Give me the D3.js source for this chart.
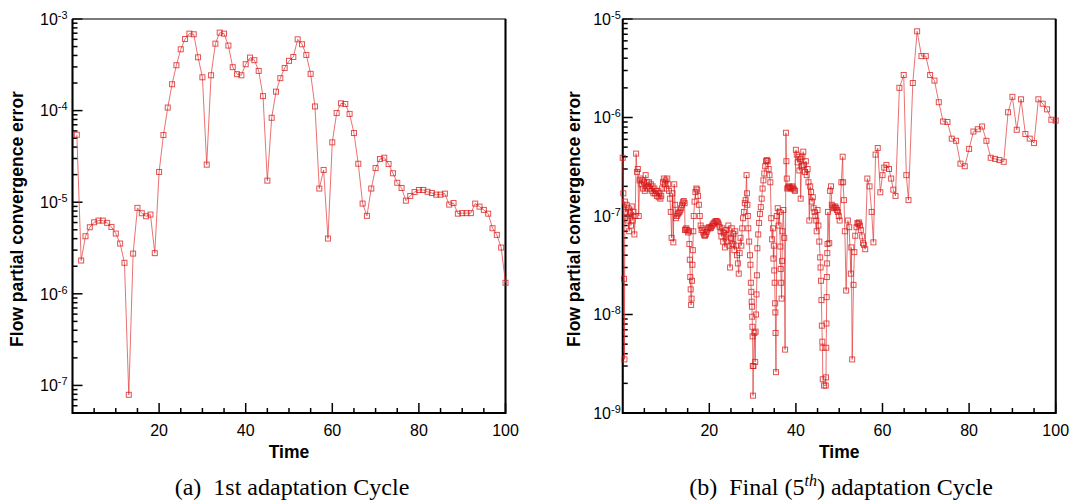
<!DOCTYPE html>
<html>
<head>
<meta charset="utf-8">
<script src="https://cdn.jsdelivr.net/npm/d3@7"></script>
<style>
  body { margin: 0; background: #fff; }
  svg { display: block; }
</style>
</head>
<body>
<svg id="chart" width="1075" height="500"></svg>
<script>
// ---- data: [time, flow partial convergence error] ----
const xMajorTicks = [20, 40, 60, 80, 100];
const xMinorTicks = [5, 10, 15, 25, 30, 35, 45, 50, 55, 65, 70, 75, 85, 90, 95];

const cycle1 = [
  [1,5.45e-5],[2,2.31e-6],[3,4.25e-6],[4,5.33e-6],[5,6.04e-6],[6,6.3e-6],[7,6.3e-6],[8,5.95e-6],
  [9,5.37e-6],[10,4.55e-6],[11,3.54e-6],[12,2.18e-6],[13,7.9e-8],[14,2.75e-6],[15,8.67e-6],
  [16,7.58e-6],[17,7.03e-6],[18,7.33e-6],[19,2.78e-6],[20,2.14e-5],[21,5.41e-5],[22,1.08e-4],
  [23,1.94e-4],[24,3.13e-4],[25,4.67e-4],[26,6.05e-4],[27,6.92e-4],[28,6.81e-4],[29,3.82e-4],
  [30,2.31e-4],[31,2.57e-5],[32,2.43e-4],[33,5.38e-4],[34,7.1e-4],[35,6.92e-4],[36,5.13e-4],
  [37,2.98e-4],[38,2.5e-4],[39,2.43e-4],[40,3.21e-4],[41,3.79e-4],[42,3.55e-4],[43,2.71e-4],
  [44,1.44e-4],[45,1.72e-5],[46,8.35e-5],[47,1.61e-4],[48,2.26e-4],[49,2.92e-4],[50,3.49e-4],
  [51,3.85e-4],[52,6.0e-4],[53,5.3e-4],[54,4.05e-4],[55,2.52e-4],[56,1.11e-4],[57,1.41e-5],
  [58,2.25e-5],[59,4.01e-6],[60,4.5e-5],[61,9.4e-5],[62,1.2e-4],[63,1.18e-4],[64,9.2e-5],
  [65,5.69e-5],[66,2.63e-5],[67,9.66e-6],[68,7.1e-6],[69,1.41e-5],[70,2.36e-5],[71,2.96e-5],
  [72,3.06e-5],[73,2.61e-5],[74,2.07e-5],[75,1.63e-5],[76,1.43e-5],[77,1.04e-5],[78,1.17e-5],
  [79,1.29e-5],[80,1.36e-5],[81,1.36e-5],[82,1.3e-5],[83,1.26e-5],[84,1.21e-5],[85,1.21e-5],
  [86,1.24e-5],[87,9.42e-6],[88,9.8e-6],[89,7.5e-6],[90,7.6e-6],[91,7.6e-6],[92,7.6e-6],
  [93,9.66e-6],[94,8.95e-6],[95,8.24e-6],[96,7.5e-6],[97,5.2e-6],[98,4.4e-6],[99,3.2e-6],[100,1.32e-6]
];

const cycleFinal = [
  [0.0,3.9e-7],[0.15,1.7e-7],[0.3,2.3e-8],[0.4,3.5e-9],[0.5,1.4e-7],[0.7,1.1e-7],[0.9,1.3e-7],
  [1.1,9e-8],[1.3,1.2e-7],[1.5,7e-8],[1.7,1.1e-7],[1.9,8e-8],[2.1,1.25e-7],[2.3,9e-8],[2.5,1.1e-7],
  [2.7,6.5e-8],[2.9,1.0e-7],[3.1,4.3e-7],[3.3,2.8e-7],[3.5,3.0e-7],[3.7,1.0e-7],[3.9,2.3e-7],
  [4.1,2.4e-7],[4.3,2.1e-7],[4.5,2.3e-7],[4.7,1.9e-7],[4.9,2.2e-7],[5.1,1.8e-7],[5.3,2.6e-7],
  [5.5,1.9e-7],[5.7,2.2e-7],[5.9,2.0e-7],[6.1,2.2e-7],[6.3,1.9e-7],[6.5,2.1e-7],[6.7,1.8e-7],
  [6.9,2.0e-7],[7.1,1.7e-7],[7.3,1.9e-7],[7.5,1.7e-7],[7.7,1.8e-7],[7.9,1.6e-7],[8.1,1.8e-7],
  [8.3,1.55e-7],[8.5,1.7e-7],[8.7,1.5e-7],[8.9,1.6e-7],[9.1,1.9e-7],[9.3,2.2e-7],[9.5,2.4e-7],
  [9.7,2.1e-7],[9.9,2.3e-7],[10.1,1.9e-7],[10.3,2.4e-7],[10.5,2.1e-7],[10.7,1.8e-7],[10.9,1.5e-7],
  [11.1,1.1e-7],[11.3,6e-8],[11.5,1.7e-7],[11.7,5.4e-8],[11.9,2.1e-7],[12.1,1.3e-7],
  [12.3,9.5e-8],[12.5,1.0e-7],[12.7,1.04e-7],[12.9,1.07e-7],[13.1,1.1e-7],[13.3,1.14e-7],
  [13.5,1.2e-7],[13.7,1.3e-7],[13.9,1.38e-7],[14.1,1.42e-7],[14.3,1.35e-7],[14.4,7.2e-8],
  [14.5,7.3e-8],[14.7,7.5e-8],[14.9,7.2e-8],[15.1,6.8e-8],[15.3,7.0e-8],[15.4,5.2e-8],
  [15.5,3.6e-8],[15.6,2.4e-8],[15.7,1.8e-8],[15.8,1.25e-8],[15.9,1.45e-8],[16.0,2.2e-8],
  [16.1,3.2e-8],[16.2,4.5e-8],[16.3,7e-8],[16.4,1.0e-7],[16.6,1.4e-7],[16.8,1.75e-7],
  [17.0,1.9e-7],[17.2,1.85e-7],[17.4,1.6e-7],[17.6,1.3e-7],[17.8,1.0e-7],[18.0,8e-8],
  [18.2,7.2e-8],[18.4,7.5e-8],[18.6,6.8e-8],[18.8,6.4e-8],[19.0,6.3e-8],[19.2,6.5e-8],
  [19.4,6.9e-8],[19.6,7.3e-8],[19.8,7.6e-8],[20.0,7.7e-8],[20.2,7.5e-8],[20.4,7.6e-8],
  [20.6,7.9e-8],[20.8,8.2e-8],[21.0,8.4e-8],[21.2,8.6e-8],[21.4,8.8e-8],[21.6,8.9e-8],
  [21.8,8.8e-8],[22.0,8.6e-8],[22.2,8.2e-8],[22.4,7.7e-8],[22.6,7.0e-8],[22.8,6.2e-8],
  [23.0,7.5e-8],[23.2,5.5e-8],[23.4,6.8e-8],[23.6,4.8e-8],[23.8,7.2e-8],[24.0,5.5e-8],
  [24.2,6.5e-8],[24.4,8.0e-8],[24.6,5.0e-8],[24.8,3.0e-8],[25.0,6.0e-8],[25.2,7.5e-8],
  [25.4,5.2e-8],[25.6,6.6e-8],[25.8,4.5e-8],[26.0,7.0e-8],[26.2,5.0e-8],[26.4,4.0e-8],
  [26.6,3.3e-8],[26.8,2.6e-8],[27.0,4.2e-8],[27.2,6.0e-8],[27.4,5.0e-8],[27.6,7.5e-8],
  [27.8,9.5e-8],[28.0,1.1e-7],[28.2,1.35e-7],[28.4,1.45e-7],[28.6,2.6e-7],[28.7,1.7e-7],
  [28.8,1.3e-7],[28.9,1.0e-7],[29.0,7.5e-8],[29.2,5.5e-8],[29.4,4.0e-8],[29.5,3.2e-8],
  [29.6,2.1e-8],[29.7,1.7e-8],[29.8,1.35e-8],[29.85,1.2e-8],[29.9,9.5e-9],[29.95,7.5e-9],
  [30.0,6.0e-9],[30.05,3.0e-9],[30.1,1.5e-9],[30.2,3.0e-9],[30.4,6.5e-9],[30.6,3.3e-9],
  [30.7,6.7e-9],[30.8,1.0e-8],[30.9,1.6e-8],[31.0,2.5e-8],[31.1,4.7e-8],[31.3,6.5e-8],
  [31.5,8.5e-8],[31.7,1.05e-7],[31.9,1.23e-7],[32.1,1.5e-7],[32.3,1.9e-7],[32.5,2.3e-7],
  [32.7,2.7e-7],[32.9,3.2e-7],[33.1,3.6e-7],[33.3,3.7e-7],[33.5,3.6e-7],[33.7,3.0e-7],
  [33.9,2.6e-7],[34.1,2.2e-7],[34.3,9.5e-8],[34.5,5.8e-8],[34.7,7.5e-8],[34.8,3.7e-8],
  [34.9,5e-8],[35.0,2.8e-8],[35.1,2.1e-8],[35.2,1.3e-8],[35.25,1.05e-8],[35.3,6.5e-9],
  [35.4,2.6e-9],[35.6,1.0e-7],[35.8,1.2e-7],[36.0,8e-8],[36.2,1.1e-7],[36.4,4.9e-8],
  [36.5,2.9e-8],[36.6,2.1e-8],[36.7,1.45e-8],[36.8,3.5e-8],[36.9,7e-8],[37.1,1.15e-7],
  [37.3,6e-8],[37.5,4.4e-9],[37.7,7.0e-7],[37.8,3.6e-7],[37.9,2.4e-7],[38.0,1.9e-7],
  [38.2,1.95e-7],[38.4,2.0e-7],[38.6,1.95e-7],[38.8,1.9e-7],[39.0,1.95e-7],[39.2,2.0e-7],
  [39.4,1.9e-7],[39.6,1.85e-7],[39.8,1.8e-7],[40.0,4.7e-7],[40.2,4.2e-7],[40.4,3.5e-7],
  [40.6,4.0e-7],[40.8,2.9e-7],[41.0,3.8e-7],[41.1,1.5e-7],[41.3,3.2e-7],[41.5,4.0e-7],
  [41.7,4.5e-7],[41.9,3.3e-7],[42.1,2.8e-7],[42.3,3.6e-7],[42.5,2.6e-7],[42.7,3.0e-7],
  [42.9,2.2e-7],[43.1,9e-8],[43.3,2.0e-7],[43.5,1.75e-7],[43.7,1.4e-7],[43.9,1.55e-7],
  [44.1,1.2e-7],[44.3,1.1e-7],[44.5,1.0e-7],[44.7,9e-8],[44.8,7e-8],[45.0,1.15e-7],
  [45.2,8e-8],[45.4,5.5e-8],[45.6,3.8e-8],[45.7,3.0e-8],[45.8,2.2e-8],[45.9,1.4e-8],
  [46.0,7.7e-9],[46.1,5.3e-9],[46.15,4.6e-9],[46.2,2.2e-9],[46.5,1.9e-9],[46.9,1.9e-9],
  [46.95,2.3e-9],[47.0,4.6e-9],[47.05,8.1e-9],[47.1,1.5e-8],[47.15,2.4e-8],[47.2,3.3e-8],
  [47.25,4.2e-8],[47.3,5.2e-8],[47.4,1.1e-7],[47.7,5.3e-8],[47.9,1.8e-7],[48.1,2.0e-7],
  [48.3,1.3e-7],[48.5,1.25e-7],[48.7,1.2e-7],[48.9,1.22e-7],[49.1,1.25e-7],[49.3,1.2e-7],
  [49.5,1.15e-7],[49.7,1.1e-7],[49.9,1.0e-7],[50.1,9.0e-8],[50.5,2.2e-7],[50.8,4.0e-7],
  [50.9,2.2e-7],[51.1,1.45e-7],[51.3,7.0e-8],[51.6,1.75e-8],[52.0,9e-8],[52.3,7.7e-8],
  [52.7,2.6e-8],[52.8,4.8e-8],[53.0,3.5e-9],[53.3,2.0e-8],[53.5,4.3e-8],[53.7,6.3e-8],
  [54.0,7.7e-8],[54.2,8.5e-8],[54.4,8.3e-8],[54.6,8.6e-8],[54.8,8e-8],[55.0,7.2e-8],
  [55.3,6.2e-8],[55.5,5.3e-8],[55.7,5.1e-8],[56.0,4.6e-8],[56.5,2.4e-7],[57.0,2.0e-7],
  [57.5,1.1e-7],[57.9,5.4e-8],[58.4,4.2e-7],[58.9,4.9e-7],[59.5,1.74e-7],[60.0,2.6e-7],
  [60.4,3.1e-7],[60.9,3.3e-7],[61.5,3.0e-7],[62.0,2.4e-7],[62.5,1.85e-7],[63.0,1.6e-7],
  [63.9,2.0e-6],[64.9,2.7e-6],[65.5,2.6e-7],[66.0,1.45e-7],[67,2.24e-6],[68,7.5e-6],
  [69,4.2e-6],[70,4.2e-6],[71,2.7e-6],[72,2.37e-6],[73,1.43e-6],[74,9.1e-7],[75,9.0e-7],
  [76,6.1e-7],[77,5.8e-7],[78,3.4e-7],[79,3.2e-7],[80,4.8e-7],[81,7.2e-7],[82,7.6e-7],
  [83,8.1e-7],[84,5.8e-7],[85,3.9e-7],[86,3.8e-7],[87,3.7e-7],[88,3.55e-7],[89,1.13e-6],
  [90,1.62e-6],[91,7.5e-7],[92,1.53e-6],[93,6.8e-7],[94,6.1e-7],[95,5.5e-7],[96,1.53e-6],
  [97,1.38e-6],[98,1.21e-6],[99,9.5e-7],[100,9.3e-7]
];

const yLabel = "Flow partial convergence error";
const xLabel = "Time";

const svg = d3.select("#chart");
const sans = "Liberation Sans, Arial, Helvetica, sans-serif";
const serif = "Liberation Serif, Times New Roman, serif";

function drawPanel(p) {
  const x = d3.scaleLinear().domain([0, 100]).range([p.left, p.right]);
  const y = d3.scaleLog().domain(p.yDomain).range([p.bottom, p.top]);
  const g = svg.append("g");

  const allY = y.ticks();
  const isDecade = d => Math.abs(Math.log10(d) - Math.round(Math.log10(d))) < 1e-9;
  const majorY = allY.filter(isDecade);

  // inward tick marks
  const ticks = g.append("g").attr("stroke", "#000").attr("stroke-width", 1.5);
  ticks.selectAll("line.ty")
    .data(allY)
    .join("line")
      .attr("class", "ty")
      .attr("x1", p.left)
      .attr("x2", d => p.left + (isDecade(d) ? 10 : 5))
      .attr("y1", d => y(d))
      .attr("y2", d => y(d));
  ticks.selectAll("line.tx")
    .data(xMajorTicks.concat(xMinorTicks))
    .join("line")
      .attr("class", "tx")
      .attr("x1", d => x(d))
      .attr("x2", d => x(d))
      .attr("y1", p.bottom)
      .attr("y2", d => p.bottom - (xMajorTicks.includes(d) ? 10 : 5));

  // y tick labels 10^n
  g.append("g")
    .selectAll("text")
    .data(majorY)
    .join("text")
      .attr("x", p.left - p.yPad)
      .attr("y", d => y(d))
      .attr("dy", "0.36em")
      .attr("text-anchor", "end")
      .attr("font-size", 16)
      .attr("font-family", sans)
      .call(t => t.append("tspan").text("10"))
      .call(t => t.append("tspan")
          .attr("dy", "-0.55em")
          .attr("font-size", "0.68em")
          .text(d => "-" + Math.abs(Math.round(Math.log10(d)))));

  // x tick labels
  g.append("g")
    .selectAll("text")
    .data(xMajorTicks)
    .join("text")
      .attr("x", d => x(d))
      .attr("y", p.bottom + 22.5)
      .attr("text-anchor", "middle")
      .attr("font-size", 16)
      .attr("font-family", sans)
      .text(d => d);

  // frame
  g.append("rect")
      .attr("x", p.left).attr("y", p.top)
      .attr("width", p.right - p.left).attr("height", p.bottom - p.top)
      .attr("fill", "none").attr("stroke", "#222").attr("stroke-width", 1.2);
  g.append("path")
      .attr("d", `M${p.left},${p.top}V${p.bottom}H${p.right}V${p.top}`)
      .attr("fill", "none").attr("stroke", "#000").attr("stroke-width", 2);

  // series
  const line = d3.line().x(d => x(d[0])).y(d => y(d[1]));
  g.append("path")
      .datum(p.data)
      .attr("d", line)
      .attr("fill", "none")
      .attr("stroke", "#e23a3a")
      .attr("stroke-opacity", 0.8)
      .attr("stroke-width", 0.9);
  g.append("g")
    .selectAll("rect")
    .data(p.data)
    .join("rect")
      .attr("x", d => x(d[0]) - 2.5)
      .attr("y", d => y(d[1]) - 2.5)
      .attr("width", 5)
      .attr("height", 5)
      .attr("fill", "none")
      .attr("stroke", "#d81818")
      .attr("stroke-opacity", 0.75)
      .attr("stroke-width", 1);

  // axis titles
  g.append("text")
      .attr("transform", `translate(${p.yLabelX},${(p.top + p.bottom) / 2 + 3}) rotate(-90)`)
      .attr("text-anchor", "middle")
      .attr("dy", "0.35em")
      .attr("font-family", sans)
      .attr("font-weight", "bold")
      .attr("font-size", 17.5)
      .text(yLabel);
  g.append("text")
      .attr("x", (p.left + p.right) / 2)
      .attr("y", 457.5)
      .attr("text-anchor", "middle")
      .attr("font-family", sans)
      .attr("font-weight", "bold")
      .attr("font-size", 17.5)
      .text(xLabel);

  // caption
  const cap = g.append("text")
      .attr("x", p.captionX)
      .attr("y", 495)
      .attr("text-anchor", "middle")
      .attr("font-family", serif)
      .attr("font-size", 24)
      .style("white-space", "pre");
  p.caption(cap);
}

drawPanel({
  left: 72.5, right: 505.5, top: 19, bottom: 413,
  yDomain: [5e-8, 1e-3], yPad: 5, yLabelX: 17,
  data: cycle1, captionX: 292,
  caption: t => t.text("(a)  1st adaptation Cycle")
});

drawPanel({
  left: 622.7, right: 1055.7, top: 19, bottom: 413,
  yDomain: [1e-9, 1e-5], yPad: 2, yLabelX: 574,
  data: cycleFinal, captionX: 841,
  caption: t => {
    t.append("tspan").text("(b)  Final (5");
    t.append("tspan").attr("dy", -9).attr("font-size", 16)
      .attr("font-style", "italic").text("th");
    t.append("tspan").attr("dy", 9).text(") adaptation Cycle");
  }
});
</script>
</body>
</html>
